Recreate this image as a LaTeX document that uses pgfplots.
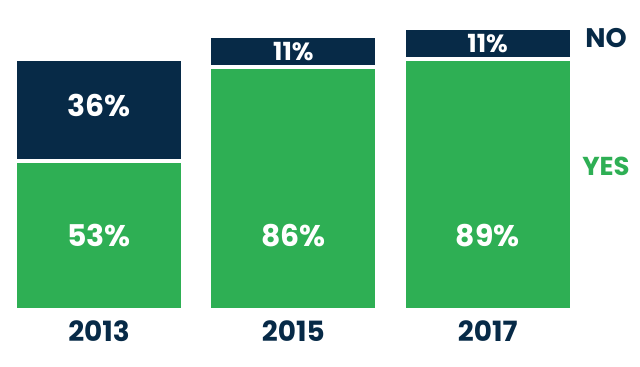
\documentclass[border=0pt]{standalone}
\usepackage{pgfplots}
\pgfplotsset{compat=1.18}
\usepackage{fontspec}
\setmainfont{Poppins}
\definecolor{navy}{RGB}{7,42,71}
\definecolor{grn}{RGB}{46,175,84}
\begin{document}
\begin{tikzpicture}
\useasboundingbox (0,0) rectangle (640bp,367bp);
\pgfplotsset{
  base/.style={
    at={(99bp,57bp)}, anchor=origin,
    scale only axis, width=583bp, height=282bp,
    xmin=-0.5, xmax=2.5, ymin=0, ymax=100,
    clip=false,
    hide y axis,
    axis x line*=bottom,
    x axis line style={draw=none},
    major tick length=0pt,
  }
}
\begin{axis}[base,
  ybar stacked, bar width=168bp,
  xtick={0,1,2}, xticklabels={2013,2015,2017},
  xticklabel style={anchor=center, yshift=-21bp, text=navy,
    font=\bfseries\fontsize{28}{28}\selectfont},
]
\addplot[fill=grn, draw=white, line width=4bp] coordinates {(0,53) (1,86) (2,89)};
\addplot[fill=navy, draw=white, line width=4bp] coordinates {(0,36) (1,11) (2,11)};
\end{axis}
\begin{axis}[base, xtick=\empty]
\addplot[only marks, mark=none, point meta=explicit symbolic,
  nodes near coords,
  every node near coord/.style={anchor=center, text=white,
    font=\bfseries\fontsize{30}{30}\selectfont}]
  coordinates {(0,26.5)[53\%] (1,26.5)[86\%] (2,26.5)[89\%] (0,72.5)[36\%]};
\addplot[only marks, mark=none, point meta=explicit symbolic,
  nodes near coords,
  every node near coord/.style={anchor=center, text=white,
    font=\bfseries\fontsize{25}{25}\selectfont}]
  coordinates {(1,91.6)[11\%] (2,94.6)[11\%]};
\end{axis}
\node[text=navy, font=\bfseries\fontsize{27}{27}\selectfont, anchor=center] at (606bp,329bp) {NO};
\node[text=grn, font=\bfseries\fontsize{26}{26}\selectfont, anchor=center] at (606bp,201bp) {YES};
\end{tikzpicture}
\end{document}
